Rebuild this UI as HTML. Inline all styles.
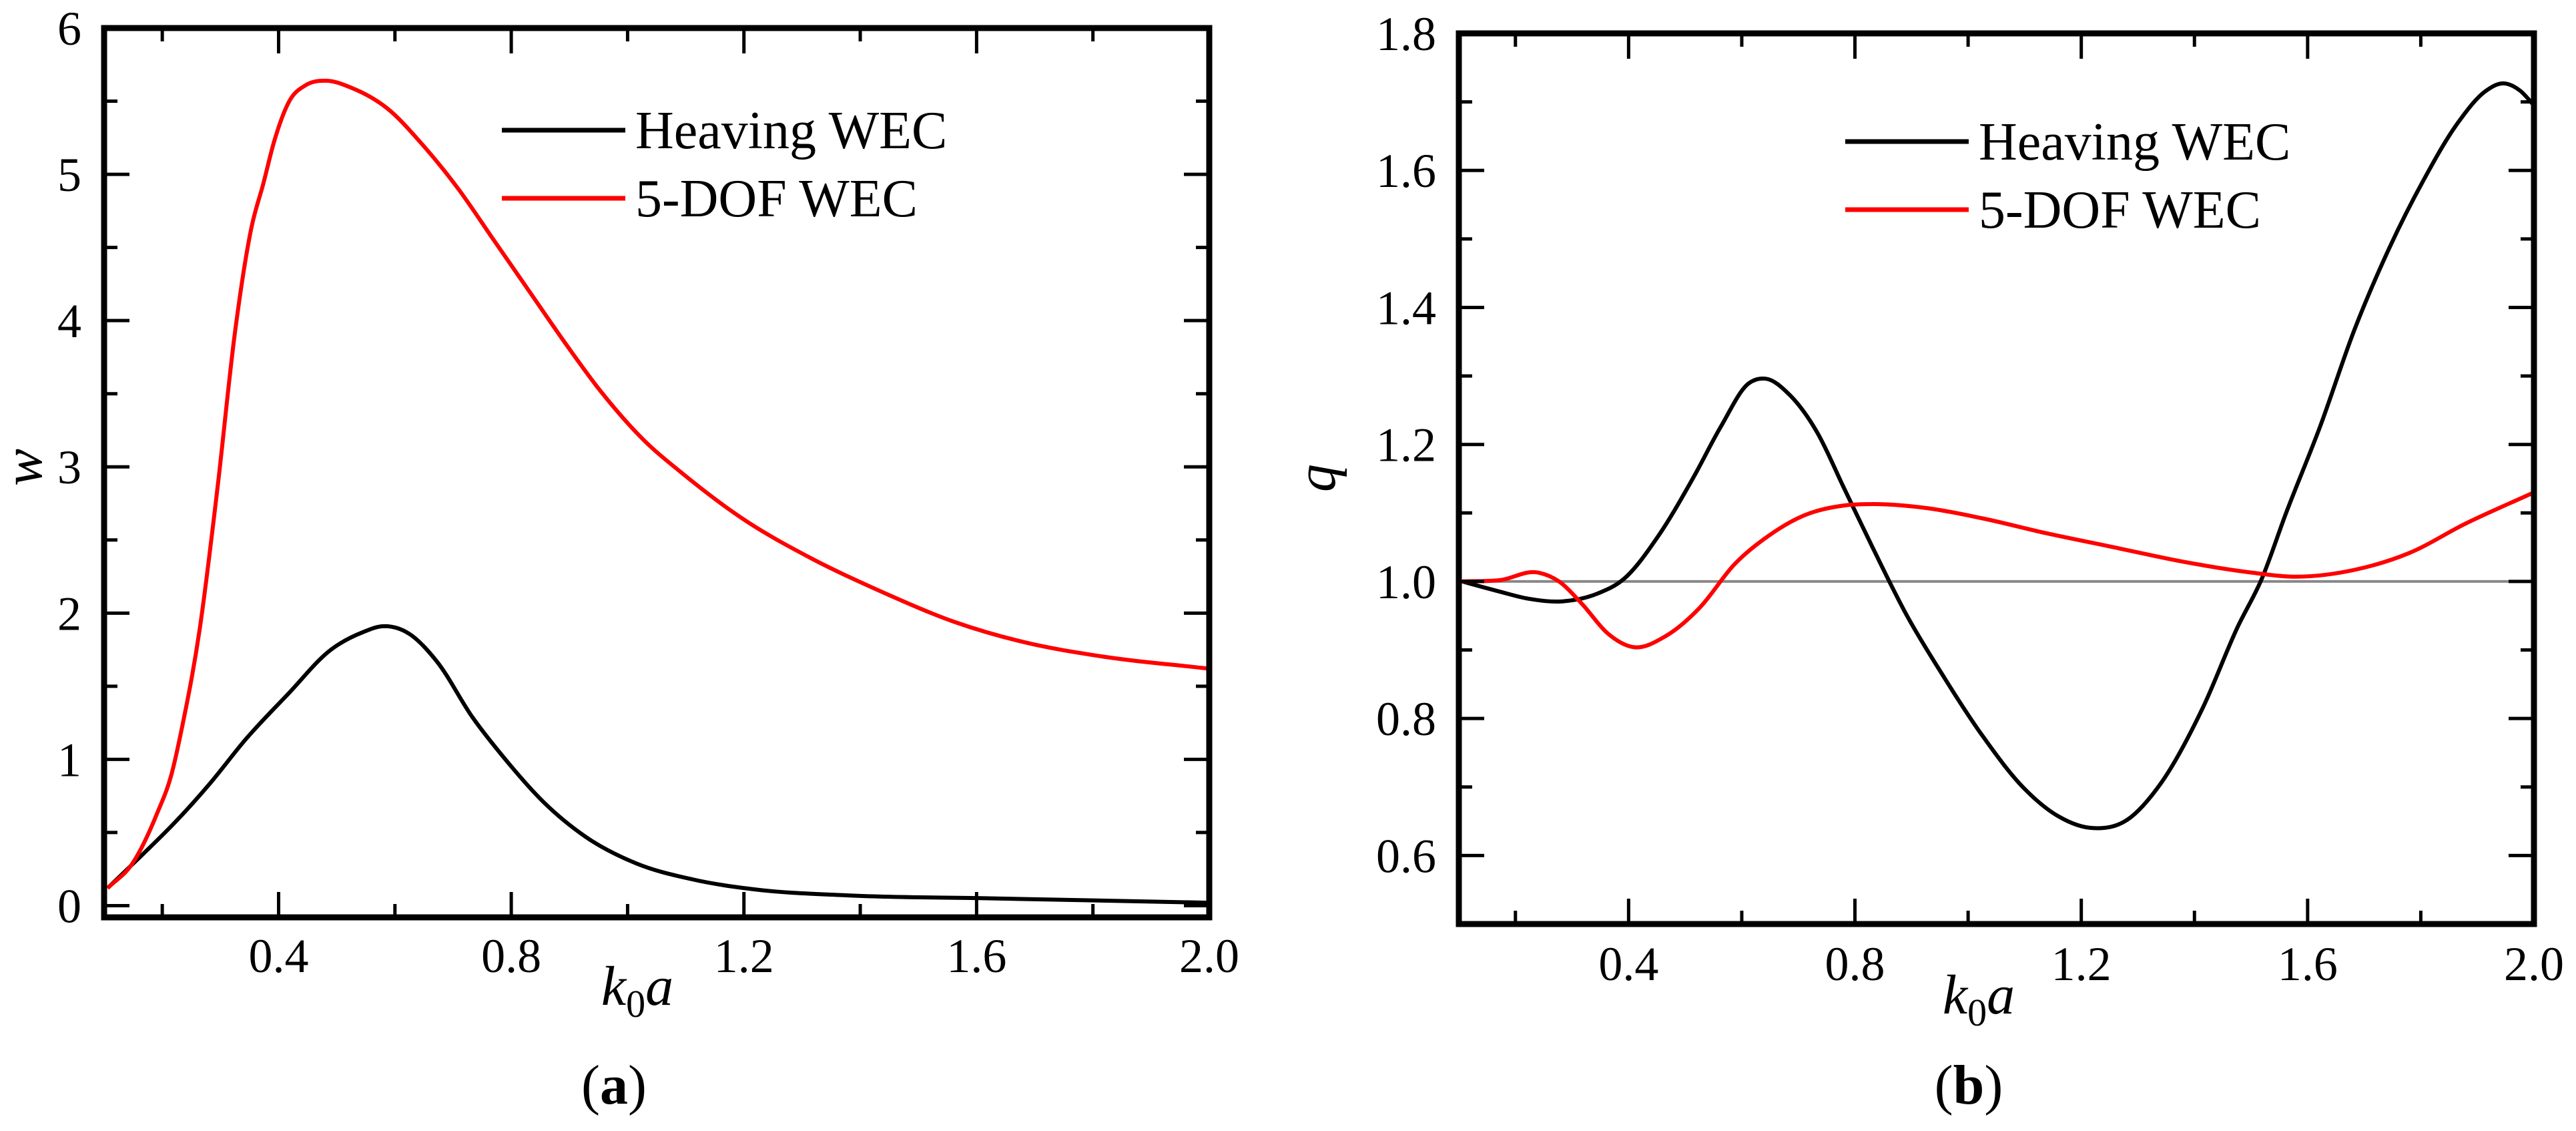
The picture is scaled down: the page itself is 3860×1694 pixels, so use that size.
<!DOCTYPE html>
<html><head><meta charset="utf-8">
<style>
html,body{margin:0;padding:0;background:#fff;}
svg{display:block;}
svg text{font-family:"Liberation Serif","Times New Roman",serif;}
</style></head>
<body>
<svg id="fig" width="3860" height="1694" viewBox="0 0 3860 1694" xmlns="http://www.w3.org/2000/svg" font-family="Liberation Serif, serif">
<rect width="3860" height="1694" fill="#fff"/>
<g id="panelA"></g>
<g id="panelB"></g>
</svg>
<script>
// ---- Panel (a) data: w vs k0a ----
const aHeaveX = [0.106,0.161,0.222,0.283,0.344,0.417,0.49,0.545,0.579,0.624,0.672,0.733,0.794,0.855,0.928,1.014,1.111,1.221,1.379,1.622,2.0];
const aHeaveY = [0.12,0.33,0.57,0.84,1.14,1.45,1.75,1.87,1.91,1.86,1.67,1.29,0.98,0.71,0.47,0.29,0.18,0.11,0.07,0.05,0.02];
const a5dofX = [0.106,0.149,0.191,0.216,0.234,0.264,0.295,0.325,0.353,0.374,0.392,0.417,0.447,0.48,0.526,0.587,0.648,0.709,0.77,0.831,0.892,0.953,1.026,1.099,1.196,1.318,1.44,1.562,1.683,1.805,2.0];
const a5dofY = [0.12,0.29,0.63,0.9,1.22,1.88,2.86,3.92,4.63,4.94,5.22,5.49,5.61,5.64,5.59,5.45,5.2,4.9,4.55,4.2,3.85,3.52,3.19,2.94,2.65,2.37,2.14,1.94,1.8,1.71,1.62];
const aXTicks = ["0.4","0.8","1.2","1.6","2.0"];
const aYTicks = ["0","1","2","3","4","5","6"];
// ---- Panel (b) data: q vs k0a ----
const bHeaveX = [0.106,0.173,0.222,0.283,0.344,0.392,0.453,0.514,0.563,0.612,0.642,0.685,0.733,0.782,0.831,0.892,0.953,1.026,1.099,1.16,1.221,1.281,1.342,1.415,1.476,1.519,1.562,1.622,1.683,1.744,1.805,1.866,1.915,1.945,1.976,2.0];
const bHeaveY = [1.0,0.985,0.975,0.971,0.982,1.004,1.067,1.151,1.226,1.289,1.296,1.272,1.218,1.134,1.05,0.95,0.866,0.774,0.698,0.657,0.64,0.652,0.707,0.816,0.933,1.004,1.10,1.226,1.368,1.486,1.586,1.67,1.716,1.727,1.716,1.695];
const b5dofX = [0.106,0.173,0.24,0.277,0.319,0.362,0.41,0.465,0.526,0.587,0.648,0.709,0.782,0.831,0.928,1.026,1.135,1.257,1.379,1.501,1.574,1.683,1.781,1.878,2.0];
const b5dofY = [1.0,1.002,1.013,1.0,0.966,0.925,0.904,0.92,0.962,1.025,1.067,1.096,1.111,1.113,1.107,1.092,1.071,1.05,1.029,1.013,1.007,1.017,1.042,1.084,1.13];
const bXTicks = ["0.4","0.8","1.2","1.6","2.0"];
const bYTicks = ["0.6","0.8","1.0","1.2","1.4","1.6","1.8"];
const refLineQ = [1.0];

const NS="http://www.w3.org/2000/svg";
const FONT='"Liberation Serif", serif';
function el(tag, attrs, parent){const e=document.createElementNS(NS,tag);for(const k in attrs)e.setAttribute(k,attrs[k]);if(tag==="text")e.setAttribute("font-family",FONT);parent.appendChild(e);return e;}
function smoothPath(pts){
  const n=pts.length, m=[];
  for(let i=0;i<n;i++){
    if(i===0){m.push((pts[1][1]-pts[0][1])/(pts[1][0]-pts[0][0]));continue;}
    if(i===n-1){m.push((pts[i][1]-pts[i-1][1])/(pts[i][0]-pts[i-1][0]));continue;}
    const h0=pts[i][0]-pts[i-1][0],h1=pts[i+1][0]-pts[i][0];
    const d0=(pts[i][1]-pts[i-1][1])/h0,d1=(pts[i+1][1]-pts[i][1])/h1;
    m.push((d0*h1+d1*h0)/(h0+h1));
  }
  let d="M"+pts[0][0].toFixed(1)+","+pts[0][1].toFixed(1);
  for(let i=0;i<n-1;i++){
    const h=pts[i+1][0]-pts[i][0];
    d+=" C"+(pts[i][0]+h/3).toFixed(1)+","+(pts[i][1]+m[i]*h/3).toFixed(1)+" "+(pts[i+1][0]-h/3).toFixed(1)+","+(pts[i+1][1]-m[i+1]*h/3).toFixed(1)+" "+pts[i+1][0].toFixed(1)+","+pts[i+1][1].toFixed(1);
  }
  return d;
}
function panel(g, cfg){
  const {L,R,T,B,xmin,xmax,ymin,ymax} = cfg;
  const sx=v=>L+(v-xmin)/(xmax-xmin)*(R-L);
  const sy=v=>B-(v-ymin)/(ymax-ymin)*(B-T);
  if(cfg.ref){ cfg.ref.forEach(r=>{
    const ln=el("line",{x1:L,x2:R,y1:sy(r),y2:sy(r),stroke:"#888","stroke-width":4},g);
    
    
  });}
  cfg.series.forEach(s=>{
    const pts=s.x.map((v,i)=>[sx(v),sy(s.y[i])]);
    const p=el("path",{d:smoothPath(pts),fill:"none",stroke:s.color,"stroke-width":6,"stroke-linejoin":"round"},g);
    
    
  });
  const fr=el("rect",{x:L,y:T,width:R-L,height:B-T,fill:"none",stroke:"#000","stroke-width":9},g);
  
  
  for(let v=0.2;v<=2.0001;v+=0.2){
    const major=Math.abs((v*10)%4)<0.01||Math.abs((v*10)%4-4)<0.01;
    const len=major?38:20;
    el("line",{x1:sx(v),x2:sx(v),y1:B,y2:B-len,stroke:"#000","stroke-width":5},g);
    el("line",{x1:sx(v),x2:sx(v),y1:T,y2:T+len,stroke:"#000","stroke-width":5},g);
  }
  cfg.xt.forEach(t=>{
    const tx=el("text",{x:sx(parseFloat(t)),y:cfg.xlabY,"font-size":72,"text-anchor":"middle"},g);
    tx.textContent=t;
    
    
  });
  for(let v=cfg.ymt0;v<=ymax+1e-6;v+=cfg.ymstep){
    const major=cfg.yt.some(t=>Math.abs(parseFloat(t)-v)<1e-6);
    const len=major?38:20;
    el("line",{x1:L,x2:L+len,y1:sy(v),y2:sy(v),stroke:"#000","stroke-width":5},g);
    el("line",{x1:R,x2:R-len,y1:sy(v),y2:sy(v),stroke:"#000","stroke-width":5},g);
  }
  cfg.yt.forEach(t=>{
    const tx=el("text",{x:cfg.ylabX,y:sy(parseFloat(t))+25,"font-size":72,"text-anchor":"end"},g);
    tx.textContent=t;
    
    
  });
  const lg=el("g",{},g);
  
  
  cfg.series.forEach((s,i)=>{
    const y=cfg.legY+i*cfg.legDy;
    el("line",{x1:cfg.legX,x2:cfg.legX+185,y1:y,y2:y,stroke:s.color,"stroke-width":7},lg);
    const tx=el("text",{x:cfg.legX+200,y:y+27,"font-size":80},lg);
    tx.textContent=s.label;
    
    
  });
  const xt=el("text",{x:cfg.xtitleX,y:cfg.xtitleY,"font-size":84,"font-style":"italic","text-anchor":"middle"},g);
  xt.innerHTML='k<tspan font-style="normal" font-size="58" dy="18">0</tspan><tspan dy="-18">a</tspan>';
  
  
  const yt=el("text",{x:0,y:0,"font-size":84,"font-style":"italic","text-anchor":"middle",transform:`translate(${cfg.ytitleX},${cfg.ytitleY}) rotate(-90)`},g);
  yt.textContent=cfg.ytitle;
  
  
  const cap=el("text",{x:cfg.capX,y:1653,"font-size":84,"text-anchor":"middle"},g);
  cap.innerHTML='(<tspan font-weight="bold">'+cfg.cap+'</tspan>)';
  
  
}
panel(document.getElementById("panelA"),{L:156,R:1812,T:42,B:1374,xmin:0.1,xmax:2.0,ymin:-0.08,ymax:6.0,
  series:[{x:aHeaveX,y:aHeaveY,color:"#000",name:"heaving-wec-line",label:"Heaving WEC"},
          {x:a5dofX,y:a5dofY,color:"#ff0000",name:"5dof-wec-line",label:"5-DOF WEC"}],
  xt:aXTicks,yt:aYTicks,ymt0:0,ymstep:0.5,xlabY:1456,ylabX:122,
  legX:752,legY:195,legDy:102,xtitleX:955,xtitleY:1505,ytitleX:62,ytitleY:700,ytitle:"w",capX:920,cap:"a"});
panel(document.getElementById("panelB"),{L:2186,R:3797,T:50,B:1384,xmin:0.1,xmax:2.0,ymin:0.5,ymax:1.8,
  series:[{x:bHeaveX,y:bHeaveY,color:"#000",name:"heaving-wec-line",label:"Heaving WEC"},
          {x:b5dofX,y:b5dofY,color:"#ff0000",name:"5dof-wec-line",label:"5-DOF WEC"}],
  xt:bXTicks,yt:bYTicks,ymt0:0.6,ymstep:0.1,xlabY:1468,ylabX:2152,ref:refLineQ,
  legX:2765,legY:212,legDy:102,xtitleX:2965,xtitleY:1518,ytitleX:2000,ytitleY:716,ytitle:"q",capX:2950,cap:"b"});
</script>
</body></html>
